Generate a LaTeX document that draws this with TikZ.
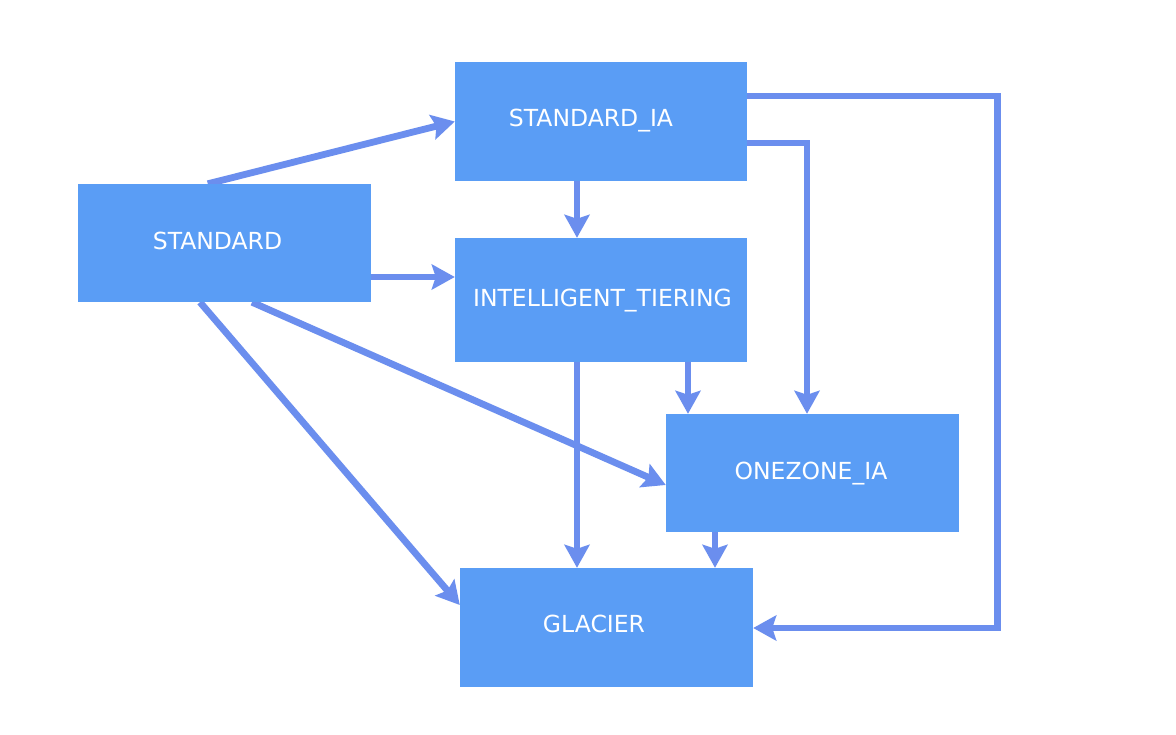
\documentclass[tikz,border=0pt]{standalone}
\usepackage{fontspec}
\newfontfamily\labfont{DejaVu Sans}
\usetikzlibrary{calc,arrows.meta,backgrounds}
\definecolor{boxblue}{HTML}{5A9DF5}
\definecolor{arrblue}{HTML}{6B8EEE}
\tikzset{
  stbox/.style={fill=boxblue, draw=none, inner sep=0pt},
  boxtext/.style={text=white, font=\labfont\fontsize{23.5}{28}\selectfont, text height=17pt, text depth=0pt, inner sep=0pt},
  conn/.style={draw=arrblue, line width=6.8pt, -{Stealth[length=23pt,width=25pt,inset=4pt]}}
}
\begin{document}
\begin{tikzpicture}[x=1pt,y=-1pt]
\useasboundingbox (0,0) rectangle (1176,734);
\node[stbox, minimum width=293pt, minimum height=118pt,
  label={[boxtext, xshift=-7pt, yshift=2pt]center:STANDARD}] (std) at (224.5,243) {};
\node[stbox, minimum width=292pt, minimum height=119pt,
  label={[boxtext, xshift=-10pt, yshift=4pt]center:STANDARD\_IA}] (sia) at (601,121.5) {};
\node[stbox, minimum width=292pt, minimum height=124pt,
  label={[boxtext, xshift=1.5pt, yshift=2pt]center:INTELLIGENT\_TIERING}] (it) at (601,300) {};
\node[stbox, minimum width=293pt, minimum height=118pt,
  label={[boxtext, xshift=-1.5pt, yshift=2pt]center:ONEZONE\_IA}] (oz) at (812.5,473) {};
\node[stbox, minimum width=293pt, minimum height=119pt,
  label={[boxtext, xshift=-12.5pt, yshift=4pt]center:GLACIER}] (gl) at (606.5,627.5) {};
\begin{scope}[on background layer]
\fill[white] (0,0) rectangle (1176,734);
\draw[conn] ($(std.north west)+(130,0)$) -- (sia.west);
\draw[conn] ($(std.east)+(0,34)$) -- ($(it.west)+(0,-23)$);
\draw[conn] ($(sia.south)+(-24,0)$) -- ($(it.north)+(-24,0)$);
\draw[conn] ($(sia.east)+(0,21.5)$) -| ($(oz.north)+(-5.5,0)$);
\draw[conn] ($(sia.east)+(0,-25.5)$) -| ($(gl.east)+(244,0.5)$) -- ($(gl.east)+(0,0.5)$);
\draw[conn] ($(it.south)+(87,0)$) -- ($(oz.north)+(-124.5,0)$);
\draw[conn] ($(it.south)+(-24,0)$) -- ($(gl.north)+(-29.5,0)$);
\draw[conn] ($(oz.south)+(-97.5,0)$) -- ($(gl.north)+(108.5,0)$);
\draw[conn] ($(std.south)+(27.5,0)$) -- ($(oz.west)+(0,12)$);
\draw[conn] ($(std.south)+(-24.5,0)$) -- ($(gl.west)+(0,-22.5)$);
\end{scope}
\end{tikzpicture}
\end{document}
